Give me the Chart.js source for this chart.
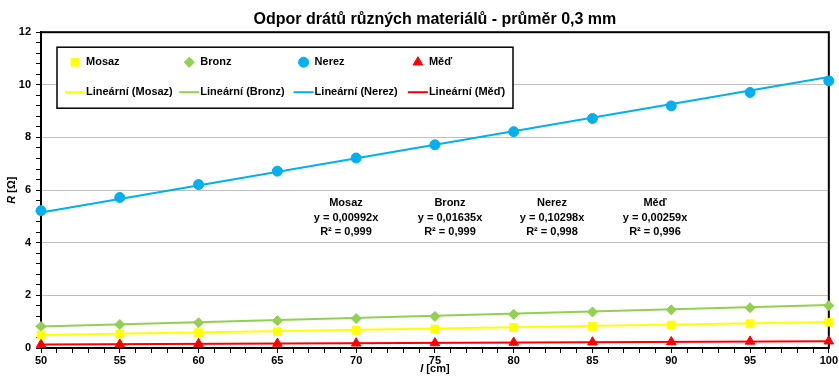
<!DOCTYPE html>
<html>
<head>
<meta charset="utf-8">
<script src="https://cdn.jsdelivr.net/npm/chart.js@4.4.0/dist/chart.umd.min.js"></script>
<style>
  html, body { margin: 0; padding: 0; background: #fff; }
</style>
</head>
<body>
<canvas id="myChart" width="839" height="377"></canvas>
<script>
// measured values (l in cm, R in ohm)
const lengths = [50, 55, 60, 65, 70, 75, 80, 85, 90, 95, 100];
const mosaz = [0.49, 0.53, 0.58, 0.62, 0.67, 0.72, 0.78, 0.82, 0.87, 0.92, 0.98];
const bronz = [0.82, 0.89, 0.96, 1.04, 1.12, 1.20, 1.28, 1.37, 1.45, 1.53, 1.61];
const nerez = [5.22, 5.72, 6.21, 6.72, 7.22, 7.72, 8.22, 8.72, 9.20, 9.71, 10.15];
const med = [0.13, 0.14, 0.16, 0.17, 0.18, 0.19, 0.21, 0.22, 0.23, 0.25, 0.26];

// trendline end points
const trendX = [50, 100];
const trendMosaz = [0.496, 0.992];
const trendBronz = [0.818, 1.635];
const trendNerez = [5.149, 10.298];
const trendMed = [0.130, 0.259];

const names = ['Mosaz', 'Bronz', 'Nerez', 'Měď'];
const equations = ['y = 0,00992x', 'y = 0,01635x', 'y = 0,10298x', 'y = 0,00259x'];
const rSquared = ['R² = 0,999', 'R² = 0,999', 'R² = 0,998', 'R² = 0,996'];

const colors = ['#FFFF00', '#92D050', '#00B0F0', '#FF0000'];
const styles = ['rect', 'rectRot', 'circle', 'triangle'];
const radii = [5.5, 5, 5, 5.5];
const FONT = "'Liberation Sans', Arial, sans-serif";

function pts(xs, ys) {
    return xs.map(function(x, i) { return { x: x, y: ys[i] }; });
}

var series = [mosaz, bronz, nerez, med];
var trends = [trendMosaz, trendBronz, trendNerez, trendMed];
var datasets = [];

series.forEach(function(s, i) {
    datasets.push({
        label: names[i],
        data: pts(lengths, s),
        showLine: false,
        pointStyle: styles[i],
        pointRadius: radii[i],
        backgroundColor: colors[i],
        borderColor: colors[i],
        borderWidth: 1,
        clip: false
    });
});
trends.forEach(function(t, i) {
    datasets.push({
        label: 'Lineární (' + names[i] + ')',
        data: pts(trendX, t),
        showLine: true,
        pointRadius: 0,
        borderColor: colors[i],
        backgroundColor: colors[i],
        borderWidth: 2,
        clip: false
    });
});

function isMajor(v, step) {
    return Math.abs(v / step - Math.round(v / step)) < 1e-6;
}

// legend box, trendline equations, axis titles, frame
var extras = {
    id: 'extras',
    beforeDatasetsDraw: function(chart) {
        var a = chart.chartArea, ctx = chart.ctx;
        ctx.save();
        ctx.strokeStyle = '#000';
        ctx.lineWidth = 2;
        ctx.strokeRect(a.left, a.top, a.right - a.left, a.bottom - a.top);
        ctx.restore();
    },
    afterDraw: function(chart) {
        var a = chart.chartArea, ctx = chart.ctx;
        ctx.save();

        // legend
        var lx = a.left + 16, ly = a.top + 15, lw = 456, lh = 61;
        ctx.fillStyle = '#fff';
        ctx.fillRect(lx, ly, lw, lh);
        ctx.strokeStyle = '#000';
        ctx.lineWidth = 1.5;
        ctx.strokeRect(lx, ly, lw, lh);
        ctx.font = 'bold 11px ' + FONT;
        ctx.textBaseline = 'middle';
        ctx.textAlign = 'left';
        var ds = chart.data.datasets;
        for (var i = 0; i < 4; i++) {
            var cx = lx + 18 + i * 114.3;
            var d = ds[i];
            ctx.fillStyle = d.backgroundColor;
            ctx.strokeStyle = d.borderColor;
            ctx.lineWidth = 1;
            Chart.helpers.drawPoint(ctx, { pointStyle: d.pointStyle, radius: d.pointRadius, rotation: 0, borderWidth: 1 }, cx, ly + 15);
            ctx.fillStyle = '#000';
            ctx.fillText(d.label, cx + 11, ly + 15);

            var t = ds[i + 4];
            ctx.strokeStyle = t.borderColor;
            ctx.lineWidth = 2;
            ctx.beginPath();
            ctx.moveTo(cx - 10, ly + 45);
            ctx.lineTo(cx + 10, ly + 45);
            ctx.stroke();
            ctx.fillStyle = '#000';
            ctx.fillText(t.label, cx + 11, ly + 45);
        }

        // equations
        ctx.textAlign = 'center';
        var ex = [346, 450, 552, 655];
        for (var j = 0; j < 4; j++) {
            ctx.fillText(names[j], ex[j], 203);
            ctx.fillText(equations[j], ex[j], 217.5);
            ctx.fillText(rSquared[j], ex[j], 232);
        }

        // axis titles with italic symbols
        ctx.font = 'italic bold 11px ' + FONT;
        var w1 = ctx.measureText('l').width;
        ctx.font = 'bold 11px ' + FONT;
        var w2 = ctx.measureText(' [cm]').width;
        var xc = (a.left + a.right) / 2 - (w1 + w2) / 2;
        ctx.textAlign = 'left';
        ctx.font = 'italic bold 11px ' + FONT;
        ctx.fillText('l', xc, 369);
        ctx.font = 'bold 11px ' + FONT;
        ctx.fillText(' [cm]', xc + w1, 369);

        ctx.translate(12, (a.top + a.bottom) / 2);
        ctx.rotate(-Math.PI / 2);
        ctx.font = 'italic bold 11px ' + FONT;
        var r1 = ctx.measureText('R').width;
        ctx.font = 'bold 11px ' + FONT;
        var r2 = ctx.measureText(' [Ω]').width;
        var yc = -(r1 + r2) / 2;
        ctx.font = 'italic bold 11px ' + FONT;
        ctx.fillText('R', yc, 0);
        ctx.font = 'bold 11px ' + FONT;
        ctx.fillText(' [Ω]', yc + r1, 0);

        ctx.restore();
    }
};

var ctx = document.getElementById('myChart').getContext('2d');
var chart = new Chart(ctx, {
    type: 'scatter',
    data: { datasets: datasets },
    plugins: [extras],
    options: {
        responsive: false,
        animation: false,
        devicePixelRatio: 1,
        layout: { padding: { left: 0, right: 10, top: 0, bottom: 0 } },
        plugins: {
            legend: { display: false },
            tooltip: { enabled: false },
            title: {
                display: true,
                text: 'Odpor drátů různých materiálů - průměr 0,3 mm',
                fullSize: false,
                color: '#000',
                font: { family: FONT, size: 16, weight: 'bold' },
                padding: { top: 10, bottom: 3 }
            }
        },
        scales: {
            x: {
                type: 'linear',
                min: 50,
                max: 100,
                afterFit: function(s) { s.height = 29; },
                border: { color: '#000', width: 2 },
                grid: { drawOnChartArea: false, tickLength: 5, tickColor: '#000' },
                ticks: {
                    stepSize: 1,
                    autoSkip: false,
                    maxRotation: 0,
                    padding: 1,
                    color: '#000',
                    font: { family: FONT, size: 11, weight: 'bold' },
                    callback: function(v) { return isMajor(v, 5) ? String(v) : ''; }
                }
            },
            y: {
                min: 0,
                max: 12,
                afterFit: function(s) { s.width = 41; },
                border: { color: '#000', width: 2 },
                grid: {
                    tickLength: 5,
                    tickColor: '#000',
                    color: function(c) {
                        var v = c.tick ? c.tick.value : 0;
                        return (isMajor(v, 2) && v > 0 && v < 12) ? '#BFBFBF' : 'rgba(0,0,0,0)';
                    }
                },
                ticks: {
                    stepSize: 0.4,
                    autoSkip: false,
                    padding: 5,
                    color: '#000',
                    font: { family: FONT, size: 11, weight: 'bold' },
                    callback: function(v) { return isMajor(v, 2) ? String(Math.round(v)) : ''; }
                }
            }
        }
    }
});
</script>
</body>
</html>
